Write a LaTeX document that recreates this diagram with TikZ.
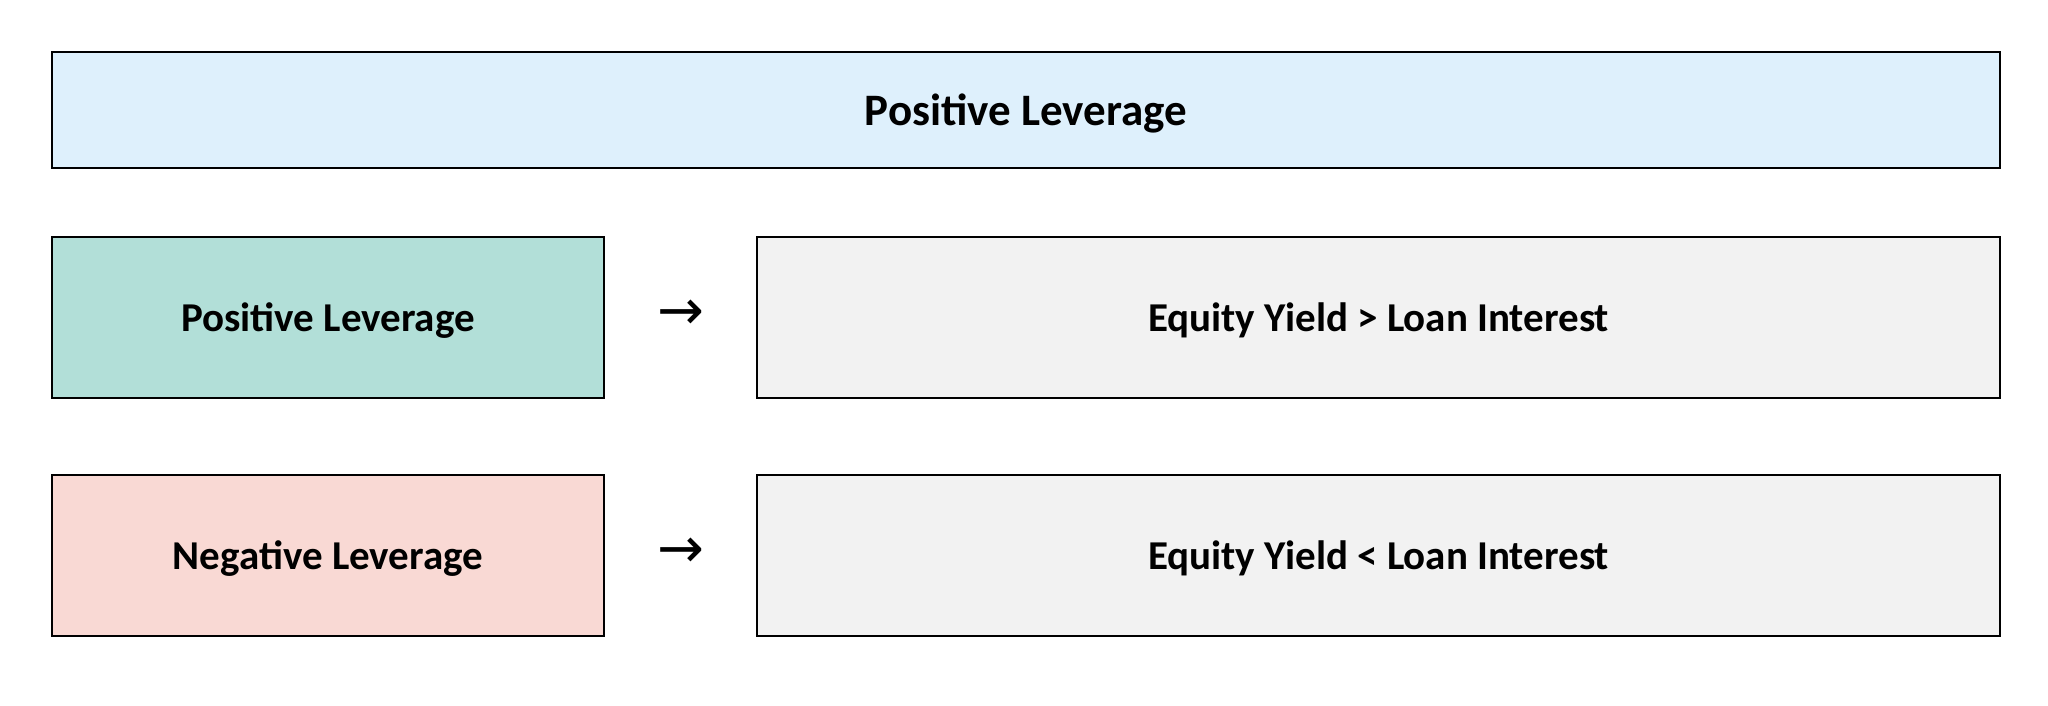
\documentclass[tikz,border=0pt]{standalone}
\usepackage{fontspec}
\setmainfont{Carlito}
\newfontfamily\symfont{DejaVu Sans}
\definecolor{topc}{HTML}{DEF0FC}
\definecolor{posc}{HTML}{B2DFD8}
\definecolor{negc}{HTML}{F9D9D4}
\definecolor{grc}{HTML}{F2F2F2}
\begin{document}
\begin{tikzpicture}[x=1pt,y=-1pt,
  box/.style={draw=black,line width=2pt,text depth=0pt,font=\fontsize{45}{54}\selectfont\bfseries},
  rowbox/.style={box,font=\fontsize{41}{50}\selectfont\bfseries},
  arr/.style={font=\symfont\fontsize{56}{60}\selectfont}]
\useasboundingbox (0,0) rectangle (2048,706);
\node[box,fill=topc,minimum width=1948,minimum height=116] (top) at (1026,110) {Positive Leverage};
\node[rowbox,fill=posc,minimum width=552,minimum height=161] (pos) at (328,317) {Positive Leverage};
\node[rowbox,fill=grc,minimum width=1243,minimum height=161] (gt) at (1378.5,317) {Equity Yield > Loan Interest};
\node[rowbox,fill=negc,minimum width=552,minimum height=161] (neg) at (328,555) {Negative Leverage};
\node[rowbox,fill=grc,minimum width=1243,minimum height=161] (lt) at (1378.5,555) {Equity Yield < Loan Interest};
\node[arr] (a1) at (681,315) {→};
\node[arr] (a2) at (681,553) {→};
\end{tikzpicture}
\end{document}
